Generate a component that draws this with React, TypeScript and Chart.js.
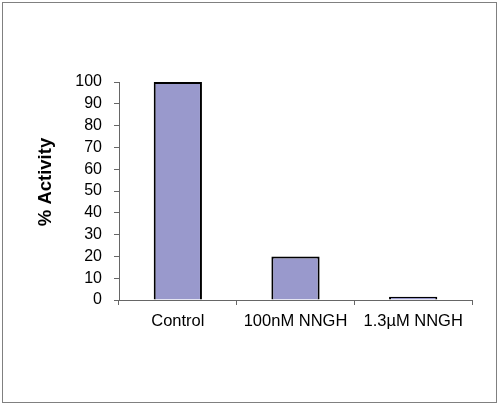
import React, { useEffect, useRef } from "react";
import { Chart, registerables } from "chart.js";

Chart.register(...registerables);

const categories = ["Control", "100nM NNGH", "1.3µM NNGH"];
const activity = [100, 20, 1.5];
const yTicks = [0, 10, 20, 30, 40, 50, 60, 70, 80, 90, 100];
const yTitle = "% Activity";

const FONT = "'Liberation Sans', Arial, Helvetica, sans-serif";

const yTitlePlugin = {
  id: "yTitlePlugin",
  afterDraw(chart: any) {
    const { ctx, chartArea } = chart;
    ctx.save();
    ctx.translate(46, (chartArea.top + chartArea.bottom) / 2 - 9);
    ctx.rotate(-Math.PI / 2);
    ctx.font = `bold 18.5px ${FONT}`;
    ctx.fillStyle = "#000000";
    ctx.textAlign = "center";
    ctx.textBaseline = "middle";
    ctx.fillText(yTitle, 0, 0);
    ctx.restore();
  },
};

export default function App() {
  const ref = useRef<HTMLCanvasElement | null>(null);

  useEffect(() => {
    const canvas = ref.current;
    if (!canvas) return;
    const chart = new Chart(canvas, {
      type: "bar",
      data: {
        labels: categories,
        datasets: [
          {
            data: activity,
            backgroundColor: "#9999cc",
            borderColor: "#000000",
            borderWidth: 2,
            categoryPercentage: 1,
            barPercentage: 0.41,
          },
        ],
      },
      options: {
        animation: false,
        responsive: false,
        devicePixelRatio: 1,
        layout: { padding: { top: 82, right: 28, left: 0, bottom: 0 } },
        plugins: { legend: { display: false }, tooltip: { enabled: false } },
        scales: {
          x: {
            grid: {
              display: true,
              drawOnChartArea: false,
              drawTicks: true,
              tickLength: 5,
              color: "#666666",
              offset: true,
            },
            border: { display: true, color: "#666666", width: 1 },
            ticks: {
              color: "#000000",
              font: { family: FONT, size: 16.5 },
              padding: 7,
              maxRotation: 0,
              autoSkip: false,
            },
            afterFit: (scale: any) => {
              scale.height = 106;
            },
          },
          y: {
            min: 0,
            max: 100,
            afterBuildTicks: (scale: any) => {
              scale.ticks = yTicks.map((v) => ({ value: v }));
            },
            grid: {
              display: true,
              drawOnChartArea: false,
              drawTicks: true,
              tickLength: 5,
              color: "#666666",
            },
            border: { display: true, color: "#666666", width: 1 },
            ticks: {
              color: "#000000",
              font: { family: FONT, size: 16 },
              padding: 12,
              autoSkip: false,
            },
            title: { display: false },
            afterFit: (scale: any) => {
              scale.width = 119;
            },
          },
        },
      },
      plugins: [yTitlePlugin],
    });
    return () => chart.destroy();
  }, []);

  return (
    <div
      style={{
        position: "fixed",
        left: 0,
        top: 0,
        width: 500,
        height: 406,
        background: "#ffffff",
      }}
    >
      <canvas
        ref={ref}
        width={500}
        height={406}
        style={{ position: "absolute", left: 0, top: 0, width: 500, height: 406 }}
      />
      <div
        style={{
          position: "absolute",
          left: 2,
          top: 2,
          width: 495,
          height: 401,
          boxSizing: "border-box",
          border: "1.5px solid #808080",
          pointerEvents: "none",
        }}
      />
    </div>
  );
}
